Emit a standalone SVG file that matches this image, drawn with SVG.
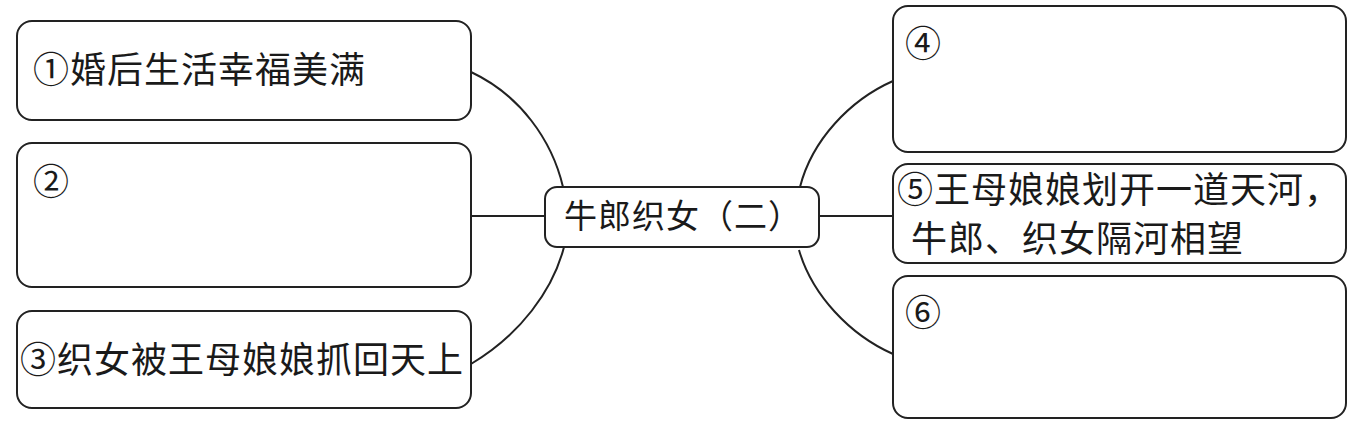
<svg xmlns="http://www.w3.org/2000/svg" width="1357" height="425" viewBox="0 0 1357 425">
<style>
.box{fill:#fff;stroke:#222;stroke-width:2}
.lnk{fill:none;stroke:#222;stroke-width:2}
.t{font-family:"Noto Sans CJK SC","Noto Sans",sans-serif;font-size:36px;letter-spacing:1px;fill:#1a1a1a}
.c{font-family:"Noto Sans CJK SC","Noto Sans",sans-serif;font-size:33px;letter-spacing:1px;fill:#1a1a1a}
</style>
<rect width="1357" height="425" fill="#fff"/>
<g id="connectors">
<path class="lnk" d="M471,72 C520,95 552,140 563,187"/>
<path class="lnk" d="M471,216 H545"/>
<path class="lnk" d="M471,364 C520,335 553,290 564,247"/>
<path class="lnk" d="M893,81 C850,100 812,140 800,187"/>
<path class="lnk" d="M819,216 H893"/>
<path class="lnk" d="M799,250 C812,295 850,335 893,354"/>
</g>
<g id="center">
<rect class="box" x="545" y="187" width="274" height="60" rx="12"/>
<text class="c" x="683" y="228" text-anchor="middle">牛郎织女（二）</text>
</g>
<g id="n1">
<rect class="box" x="17" y="21" width="454" height="99" rx="15"/>
<text class="t" x="33" y="83">①婚后生活幸福美满</text>
</g>
<g id="n2">
<rect class="box" x="17" y="143" width="454" height="144" rx="15"/>
<text class="t" x="33" y="195">②</text>
</g>
<g id="n3">
<rect class="box" x="17" y="311" width="454" height="97" rx="15"/>
<text class="t" x="20" y="373">③织女被王母娘娘抓回天上</text>
</g>
<g id="n4">
<rect class="box" x="893" y="6" width="453" height="146" rx="15"/>
<text class="t" x="905" y="57">④</text>
</g>
<g id="n5">
<rect class="box" x="893" y="164" width="453" height="99" rx="15"/>
<text class="t" x="897" y="203">⑤王母娘娘划开一道天河，</text>
<text class="t" x="911" y="252">牛郎、织女隔河相望</text>
</g>
<g id="n6">
<rect class="box" x="893" y="276" width="453" height="142" rx="15"/>
<text class="t" x="905" y="326">⑥</text>
</g>
</svg>
